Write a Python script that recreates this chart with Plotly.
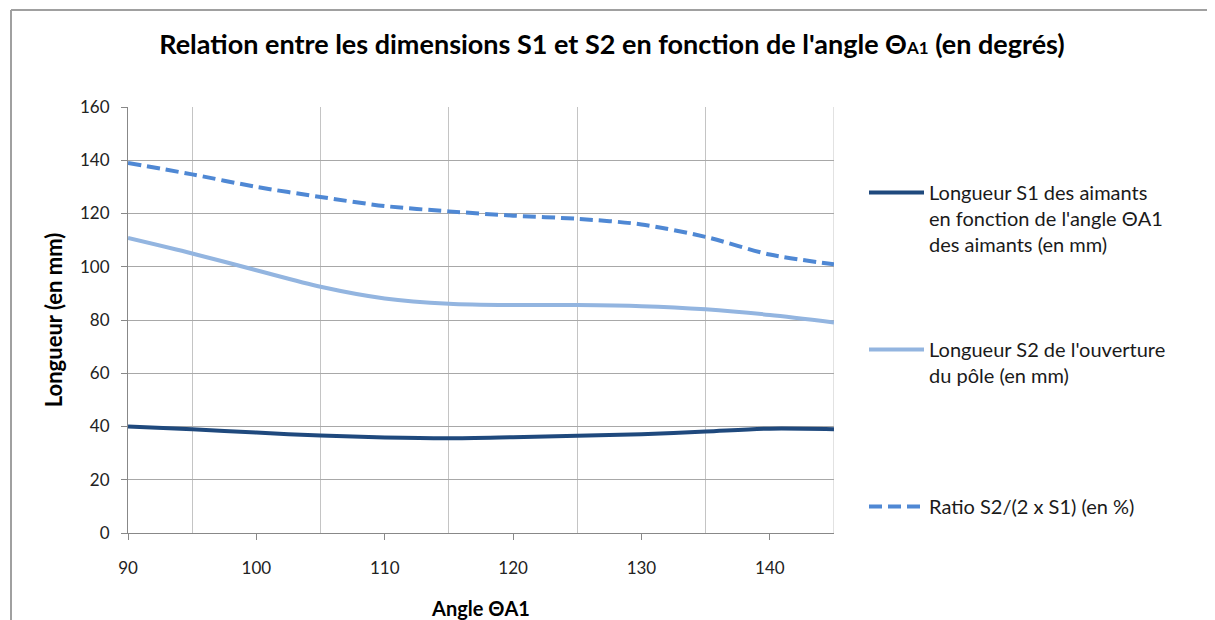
import plotly.graph_objects as go

angles = [90, 95, 100, 105, 110, 115, 120, 125, 130, 135, 140, 145]
s1_values = [40.0, 39.0, 37.7, 36.6, 35.9, 35.6, 36.0, 36.5, 37.1, 38.1, 39.2, 39.0]
s2_values = [110.8, 105.0, 98.7, 92.5, 88.1, 86.1, 85.6, 85.6, 85.2, 84.0, 81.9, 79.1]
ratio_values = [139.0, 134.7, 130.0, 126.2, 122.8, 120.8, 119.2, 118.0, 115.9, 111.2, 104.6, 100.9]

name_s1 = "Longueur S1 des aimants<br>en fonction de l'angle ΘA1<br>des aimants (en mm)"
name_s2 = "Longueur S2 de l'ouverture<br>du pôle (en mm)"
name_ratio = "Ratio S2/(2 x S1) (en %)"

title_text = "Relation entre les dimensions S1 et S2 en fonction de l'angle Θ<span style='font-size:17px'>A1</span> (en degrés)"
x_title = "Angle ΘA1"
y_title = "Longueur (en mm)"

FONT = "Lato, 'Open Sans', sans-serif"

fig = go.Figure()
fig.add_trace(go.Scatter(x=angles, y=s1_values, name=name_s1, mode="lines", showlegend=True,
                         line=dict(color="#1F497D", width=4, shape="spline", smoothing=0.8),
                         legend="legend"))
fig.add_trace(go.Scatter(x=angles, y=s2_values, name=name_s2, mode="lines", showlegend=True,
                         line=dict(color="#93B5E0", width=4, shape="spline", smoothing=0.8),
                         legend="legend2"))
fig.add_trace(go.Scatter(x=angles, y=ratio_values, name=name_ratio, mode="lines", showlegend=True,
                         line=dict(color="#4F88D4", width=4, dash="13px,6px", shape="spline", smoothing=0.8),
                         legend="legend3"))

# the page body adds an 8px offset; work in screen coordinates
OFF = 8
W, H = 1215 - OFF, 620 - OFF
left_s, right_s, top_s, bottom_s = 128, 834, 107, 533
L, R = left_s - OFF, W - (right_s - OFF)
T, B = top_s - OFF, H - (bottom_s - OFF)
pw, ph = W - L - R, H - T - B

def px(xs):
    return (xs - OFF - L) / pw

def py(ys):
    return (H - B - (ys - OFF)) / ph

legend_common = dict(font=dict(family=FONT, size=20, color="#1a1a1a"), bgcolor="rgba(0,0,0,0)",
                     xanchor="left", yanchor="top", valign="top", itemwidth=55)

fig.update_layout(
    width=W, height=H,
    margin=dict(l=L, r=R, t=T, b=B, autoexpand=False),
    showlegend=True,
    paper_bgcolor="white", plot_bgcolor="white",
    font=dict(family=FONT, color="#1a1a1a"),
    title=dict(text=title_text, x=(612 - OFF) / W, xanchor="center", y=1 - (45 - OFF) / H, yanchor="middle",
               font=dict(family=FONT, size=27, color="#000000", weight="bold")),
    legend=dict(x=px(864), y=py(173), **legend_common),
    legend2=dict(x=px(864), y=py(330), **legend_common),
    legend3=dict(x=px(864), y=py(487), **legend_common),
    xaxis=dict(range=[90, 145], dtick=10, tick0=90, ticks="outside", ticklen=6, tickcolor="#888888",
               showline=True, linecolor="#888888", linewidth=1, automargin=False,
               showgrid=False, zeroline=False,
               minor=dict(dtick=5, showgrid=True, gridcolor="#C4C4C4", gridwidth=1),
               tickfont=dict(family=FONT, size=17, color="#222222"),
               ticklabelstandoff=14,
               title=dict(text=x_title, standoff=33, font=dict(family=FONT, size=20, color="#000000", weight="bold"))),
    yaxis=dict(range=[0, 160], dtick=20, ticks="outside", ticklen=6, tickcolor="#888888",
               showline=True, linecolor="#888888", linewidth=1, automargin=False,
               showgrid=True, gridcolor="#A8A8A8", gridwidth=1, zeroline=False,
               tickfont=dict(family=FONT, size=17, color="#222222"),
               ticklabelstandoff=8,
               title=dict(text=y_title, standoff=11, font=dict(family=FONT, size=22, color="#000000", weight="bold"))),
)

# chart-area border (top and left edges visible in the reference)
fig.add_shape(type="line", xref="paper", yref="paper", x0=px(11), x1=px(1240), y0=py(10), y1=py(10),
              line=dict(color="#A0A0A0", width=2))
fig.add_shape(type="line", xref="paper", yref="paper", x0=px(11), x1=px(11), y0=py(10), y1=py(640),
              line=dict(color="#A0A0A0", width=2))
# right edge gridline at 145
fig.add_shape(type="line", xref="x", yref="paper", x0=145, x1=145, y0=0, y1=1,
              line=dict(color="#C4C4C4", width=1), layer="below")

fig.write_html("out.html")
